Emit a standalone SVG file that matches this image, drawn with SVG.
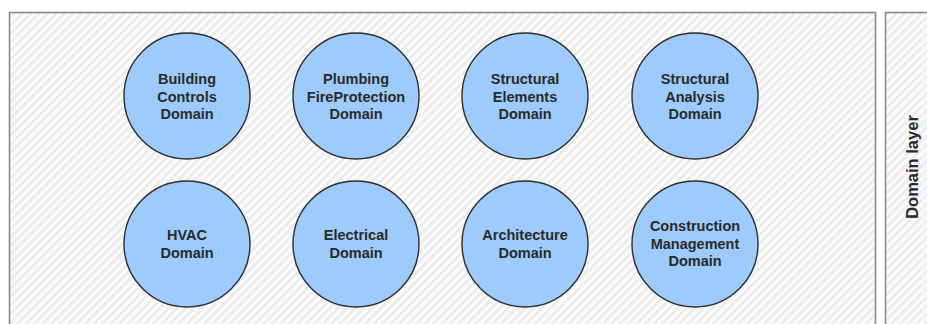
<svg xmlns="http://www.w3.org/2000/svg" width="927" height="324" viewBox="0 0 927 324">
<defs>
<pattern id="hatch" patternUnits="userSpaceOnUse" width="6" height="6" patternTransform="rotate(45)">
<rect width="6" height="6" fill="#fbfbfb"/>
<rect width="2.5" height="6" fill="#ebebeb"/>
</pattern>
</defs>
<style>
.panel{fill:url(#hatch);stroke:#8a8a8a;stroke-width:1.6}
.dom{fill:#9dcbfb;stroke:#2e2e2e;stroke-width:1.4}
.lbl{font-family:"Liberation Sans",Arial,sans-serif;font-weight:bold;font-size:14.5px;fill:#2a2a2a;text-anchor:middle}
.layer{font-family:"Liberation Sans",Arial,sans-serif;font-weight:bold;font-size:16.5px;fill:#2a2a2a;text-anchor:middle}
</style>
<rect width="927" height="324" fill="#ffffff"/>
<g id="main-panel"><rect class="panel" x="9.5" y="12.5" width="866" height="330"/></g>
<g id="layer-panel"><rect class="panel" x="885.5" y="12.5" width="60" height="330"/>
<text class="layer" transform="translate(918,167) rotate(-90)">Domain layer</text></g>
<g id="connectors"></g>
<g id="building-controls"><circle class="dom" cx="187" cy="96" r="63"/>
<text class="lbl" x="187" y="84">Building</text><text class="lbl" x="187" y="101.5">Controls</text><text class="lbl" x="187" y="119">Domain</text></g>
<g id="plumbing"><circle class="dom" cx="356" cy="96" r="63"/>
<text class="lbl" x="356" y="84">Plumbing</text><text class="lbl" x="356" y="101.5">FireProtection</text><text class="lbl" x="356" y="119">Domain</text></g>
<g id="structural-elements"><circle class="dom" cx="525" cy="96" r="63"/>
<text class="lbl" x="525" y="84">Structural</text><text class="lbl" x="525" y="101.5">Elements</text><text class="lbl" x="525" y="119">Domain</text></g>
<g id="structural-analysis"><circle class="dom" cx="695" cy="96" r="63"/>
<text class="lbl" x="695" y="84">Structural</text><text class="lbl" x="695" y="101.5">Analysis</text><text class="lbl" x="695" y="119">Domain</text></g>
<g id="hvac"><circle class="dom" cx="187" cy="244" r="63"/>
<text class="lbl" x="187" y="240">HVAC</text><text class="lbl" x="187" y="257.5">Domain</text></g>
<g id="electrical"><circle class="dom" cx="356" cy="244" r="63"/>
<text class="lbl" x="356" y="240">Electrical</text><text class="lbl" x="356" y="257.5">Domain</text></g>
<g id="architecture"><circle class="dom" cx="525" cy="244" r="63"/>
<text class="lbl" x="525" y="240">Architecture</text><text class="lbl" x="525" y="257.5">Domain</text></g>
<g id="construction-management"><circle class="dom" cx="695" cy="244" r="63"/>
<text class="lbl" x="695" y="231">Construction</text><text class="lbl" x="695" y="248.5">Management</text><text class="lbl" x="695" y="266">Domain</text></g>
</svg>
